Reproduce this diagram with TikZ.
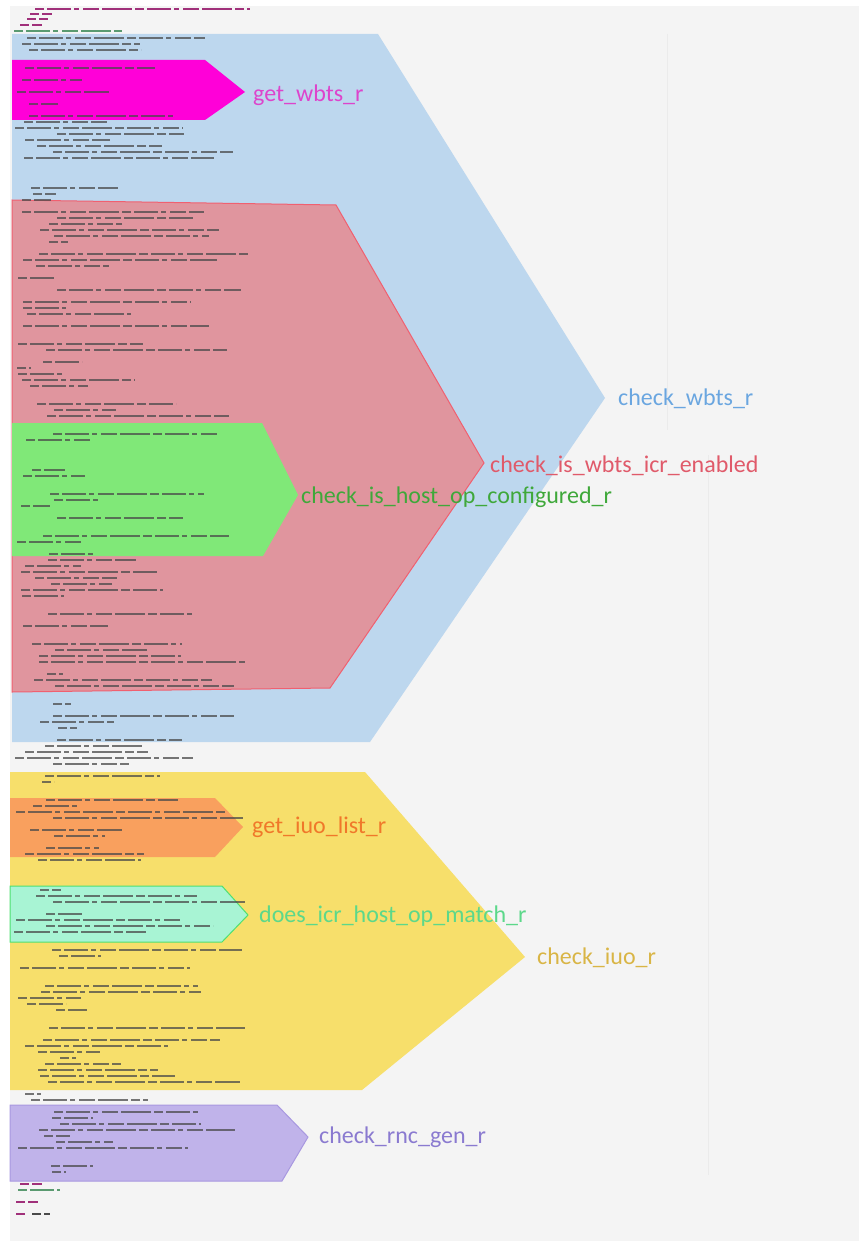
\documentclass[tikz,border=0pt]{standalone}
\usepackage{fontspec}
\setmainfont{Carlito}
\definecolor{pagebg}{HTML}{F4F4F4}
\definecolor{wbtsblue}{HTML}{BDD7EE}
\definecolor{wbtstxt}{HTML}{6AA6E0}
\definecolor{getmag}{HTML}{FF00D8}
\definecolor{getmagtxt}{HTML}{DD44CC}
\definecolor{icrred}{HTML}{E0959E}
\definecolor{icrline}{HTML}{F06070}
\definecolor{icrtxt}{HTML}{E05A6A}
\definecolor{hostgreen}{HTML}{80E878}
\definecolor{hosttxt}{HTML}{3FA83A}
\definecolor{iuoyellow}{HTML}{F7DF6B}
\definecolor{iuotxt}{HTML}{D9B545}
\definecolor{listorange}{HTML}{F9A05E}
\definecolor{listtxt}{HTML}{F0782A}
\definecolor{matchmint}{HTML}{A8F4D4}
\definecolor{matchline}{HTML}{4EE070}
\definecolor{matchtxt}{HTML}{5CD88A}
\definecolor{rncpurple}{HTML}{C0B3EA}
\definecolor{rncline}{HTML}{A898E0}
\definecolor{rnctxt}{HTML}{8A7AD0}
\definecolor{codegray}{HTML}{4A4A4A}
\definecolor{codemag}{HTML}{A0307A}
\definecolor{codegreen}{HTML}{5A9A70}
\begin{document}
\begin{tikzpicture}
		[x=1pt,y=-1pt,
		region/.style={draw=none},
		framed/.style={line width=1pt},
		tag/.style={font=\fontsize{24}{29}\selectfont,anchor=base west,inner sep=0pt},
		codebar/.style={codegray,line width=2pt,opacity=0.75,
dash pattern=on 9pt off 3pt on 24pt off 3pt on 5pt off 4pt on 16pt off 3pt on 30pt off 3pt},
		guide/.style={draw=black!8,line width=1pt}]
		\useasboundingbox (0,0) rectangle (859,1241);
		\fill[pagebg] (10,6) rectangle (859,1241);
		\draw[guide] (667,34) -- (667,430);
		\draw[guide] (708,455) -- (708,1175);
		% regions
		\path[region,fill=wbtsblue] (12,34) -- (378,34) -- (605,398) -- (370,742) -- (12,742) -- cycle;
		\path[region,fill=getmag] (12,60) -- (205,60) -- (245,92) -- (205,120) -- (12,120) -- cycle;
		\draw[framed,draw=icrline,fill=icrred] (12,200) -- (336,205) -- (484,463) -- (330,688) -- (12,692) -- cycle;
		\path[region,fill=hostgreen] (12,423) -- (262,423) -- (298,495) -- (263,556) -- (12,556) -- cycle;
		\path[region,fill=iuoyellow] (10,772) -- (365,772) -- (525,957) -- (362,1090) -- (10,1090) -- cycle;
		\path[region,fill=listorange] (10,798) -- (215,798) -- (243,827) -- (215,857) -- (10,857) -- cycle;
		\draw[framed,draw=matchline,fill=matchmint] (10,886) -- (222,886) -- (248,915) -- (222,942) -- (10,942) -- cycle;
		\draw[framed,draw=rncline,fill=rncpurple] (10,1105) -- (277,1105) -- (308,1137) -- (282,1181) -- (10,1181) -- cycle;
		% code lines
		\pgfmathsetseed{11}
		\foreach \ry in {38,44,...,1176} {
			\pgfmathrandominteger{\rind}{14}{60}
			\pgfmathrandominteger{\rlen}{12}{210}
			\pgfmathrandominteger{\rgo}{0}{9}
			\ifnum\rgo>2 \draw[codebar] (\rind,\ry) -- ++(\rlen,0); \fi
		}
		\draw[codebar,codemag,opacity=1] (35,9) -- (250,9);
		\draw[codebar,codemag,opacity=1] (30,14) -- (52,14);
		\draw[codebar,codemag,opacity=1] (27,19) -- (48,19);
		\draw[codebar,codemag,opacity=1] (20,25) -- (42,25);
		\draw[codebar,codegreen,opacity=1] (14,31) -- (122,31);
		\draw[codebar,codemag,opacity=1] (20,1184) -- (42,1184);
		\draw[codebar,codegreen,opacity=1] (18,1190) -- (60,1190);
		\draw[codebar,codemag,opacity=1] (16,1202) -- (38,1202);
		\draw[codebar,codemag,opacity=1] (16,1214) -- (28,1214);
		\draw[codebar,opacity=1] (32,1214) -- (50,1214);
		% labels
		\node at (618,405) (wbts) [tag,text=wbtstxt] {check\_wbts\_r};
		\node at (253,102) (getwbts) [tag,text=getmagtxt] {get\_wbts\_r};
		\node at (490,472) (icr) [tag,text=icrtxt] {check\_is\_wbts\_icr\_enabled};
		\node at (301,503) (hostop) [tag,text=hosttxt] {check\_is\_host\_op\_configured\_r};
		\node at (537,964) (iuo) [tag,text=iuotxt] {check\_iuo\_r};
		\node at (252,833) (iuolist) [tag,text=listtxt] {get\_iuo\_list\_r};
		\node at (259,922) (hostmatch) [tag,text=matchtxt] {does\_icr\_host\_op\_match\_r};
		\node at (319,1143) (rnc) [tag,text=rnctxt] {check\_rnc\_gen\_r};
	\end{tikzpicture}
\end{document}
